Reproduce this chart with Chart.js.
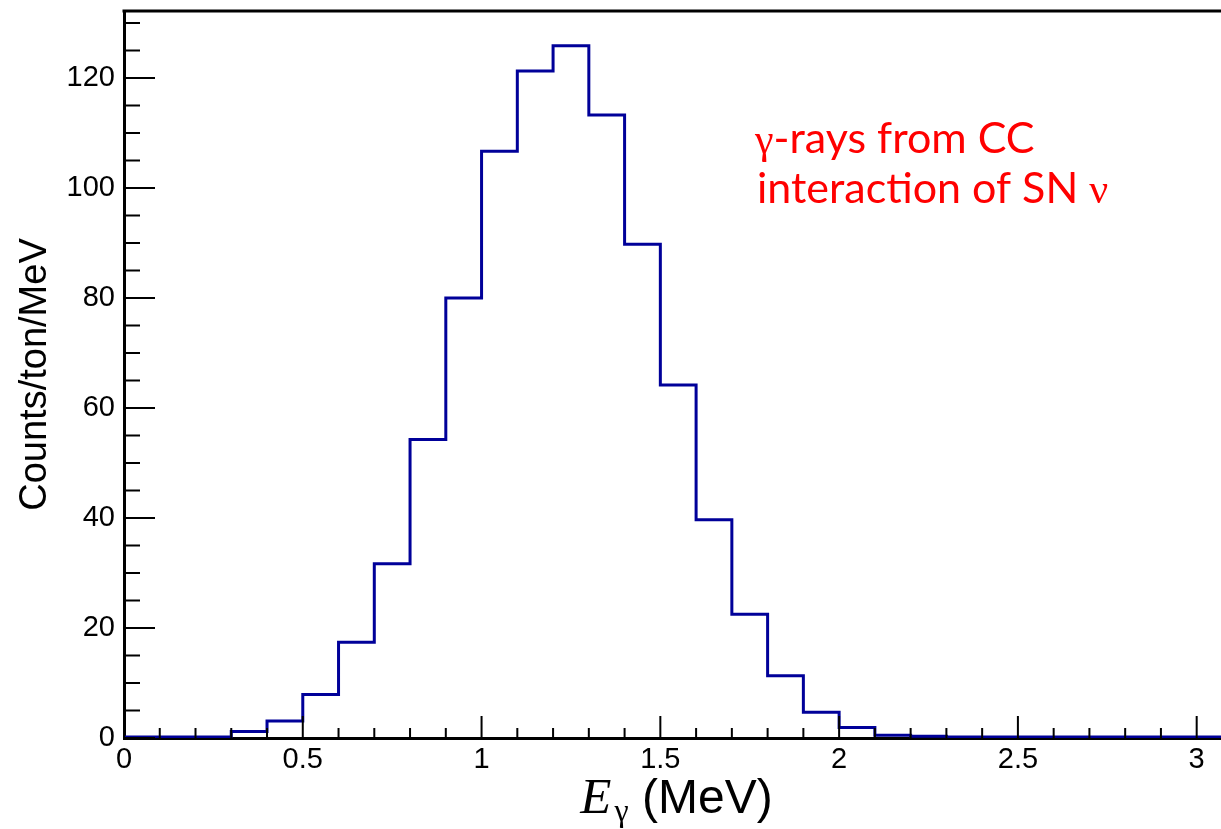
<!DOCTYPE html>
<html>
<head>
<meta charset="utf-8">
<script src="https://cdn.jsdelivr.net/npm/chart.js@4.4.1/dist/chart.umd.min.js"></script>
<style>
  html, body { margin: 0; padding: 0; background: #fff; }
  #wrap { width: 1221px; height: 829px; position: relative; }
</style>
</head>
<body>
<div id="wrap"><canvas id="histChart"></canvas></div>
<script>
// bin edges in MeV (0.1 MeV bins)
const binEdges = [0, 0.1, 0.2, 0.3, 0.4, 0.5, 0.6, 0.7, 0.8, 0.9, 1.0, 1.1, 1.2, 1.3, 1.4, 1.5,
  1.6, 1.7, 1.8, 1.9, 2.0, 2.1, 2.2, 2.3, 2.4, 2.5, 2.6, 2.7, 2.8, 2.9, 3.0, 3.1];
// counts/ton/MeV for each bin
const counts = [0.2, 0.2, 0.2, 1.2, 3.1, 7.9, 17.4, 31.7, 54.3, 80.0, 106.7, 121.3, 125.9, 113.3, 89.8,
  64.2, 39.7, 22.5, 11.3, 4.7, 1.9, 0.5, 0.3, 0.2, 0.2, 0.2, 0.2, 0.2, 0.2, 0.2, 0.2];
const xTickValues = [0, 0.5, 1, 1.5, 2, 2.5, 3];
const yTickValues = [0, 20, 40, 60, 80, 100, 120];
const yTitle = "Counts/ton/MeV";
const xTitle = { symbol: "E", sub: "\u03b3", unit: " (MeV)" };
const note = [
  { greek: "\u03b3", text: "-rays from CC" },
  { text: "interaction of SN ", greekAfter: "\u03bd" }
];

const SANS = "'Liberation Sans', Arial, Helvetica, sans-serif";
const SERIF = "'Liberation Serif', 'Times New Roman', serif";
const NOTE_FONT = "Lato, 'Open Sans', sans-serif";

// step points: each bin's left edge, plus the last right edge
const histPoints = counts.map((c, i) => ({ x: binEdges[i], y: c }));
histPoints.push({ x: binEdges[binEdges.length - 1], y: counts[counts.length - 1] });

const frameAndLabels = {
  id: "frameAndLabels",
  afterDraw(chart) {
    const { ctx, chartArea: a, scales: { x, y } } = chart;
    ctx.save();

    // inward ticks, ROOT style
    ctx.strokeStyle = "#000";
    ctx.lineWidth = 2;
    ctx.beginPath();
    for (let i = 0; i <= 31; i++) {
      const px = x.getPixelForValue(i / 10);
      if (px > a.right) break;
      const len = i % 5 === 0 ? 22 : 10;
      ctx.moveTo(px, a.bottom);
      ctx.lineTo(px, a.bottom - len);
    }
    for (let j = 0; j <= 27; j++) {
      const py = y.getPixelForValue(j * 5);
      if (py < a.top) break;
      const len = j % 4 === 0 ? 31 : 16;
      ctx.moveTo(a.left, py);
      ctx.lineTo(a.left + len, py);
    }
    ctx.stroke();

    // top frame line
    ctx.lineWidth = 3;
    ctx.beginPath();
    ctx.moveTo(a.left - 1.5, a.top);
    ctx.lineTo(a.right, a.top);
    ctx.stroke();

    // x title: italic E, subscript gamma, unit
    ctx.fillStyle = "#000";
    ctx.textBaseline = "alphabetic";
    ctx.textAlign = "left";
    const fE = "italic 51px " + SERIF;
    const fG = "32px " + SERIF;
    const fU = "48px " + SANS;
    ctx.font = fE; const wE = ctx.measureText(xTitle.symbol).width;
    ctx.font = fG; const wG = ctx.measureText(xTitle.sub).width;
    ctx.font = fU; const wU = ctx.measureText(xTitle.unit).width;
    const total = wE + 3 + wG + wU;
    let tx = (a.left + a.right) / 2 + 4 - total / 2;
    const base = a.bottom + 75;
    ctx.font = fE; ctx.fillText(xTitle.symbol, tx, base); tx += wE + 3;
    ctx.font = fG; ctx.fillText(xTitle.sub, tx, base + 8); tx += wG;
    ctx.font = fU; ctx.fillText(xTitle.unit, tx, base);

    // red annotation
    ctx.fillStyle = "#ff0000";
    const nx = 755;
    let ny = 153;
    ctx.font = "42px " + SERIF;
    ctx.fillText(note[0].greek, nx, ny);
    const gw = ctx.measureText(note[0].greek).width;
    ctx.font = "43px " + NOTE_FONT;
    ctx.fillText(note[0].text, nx + gw, ny);
    ny += 50;
    ctx.fillText(note[1].text, nx + 2, ny);
    const w2 = ctx.measureText(note[1].text).width;
    ctx.font = "42px " + SERIF;
    ctx.fillText(note[1].greekAfter, nx + 2 + w2, ny);

    ctx.restore();
  }
};

new Chart(document.getElementById("histChart"), {
  type: "line",
  data: {
    datasets: [{
      data: histPoints,
      stepped: "before",
      borderColor: "#000099",
      borderWidth: 3,
      pointRadius: 0,
      fill: false
    }]
  },
  options: {
    responsive: true,
    maintainAspectRatio: false,
    animation: false,
    devicePixelRatio: 1,
    layout: { padding: { top: 11, left: 0, right: 0, bottom: 0 } },
    plugins: { legend: { display: false }, tooltip: { enabled: false } },
    scales: {
      x: {
        type: "linear",
        min: 0,
        max: 3.068,
        grid: { display: false, drawTicks: false },
        border: { display: true, color: "#000", width: 3 },
        ticks: {
          color: "#000",
          font: { family: SANS, size: 29 },
          padding: 5,
          maxRotation: 0,
          callback: v => String(v)
        },
        afterBuildTicks: s => { s.ticks = xTickValues.map(v => ({ value: v })); },
        afterFit: s => { s.height = 91; s.paddingLeft = 0; s.paddingRight = 0; }
      },
      y: {
        type: "linear",
        min: 0,
        max: 132.2,
        grid: { display: false, drawTicks: false },
        border: { display: true, color: "#000", width: 3 },
        ticks: {
          color: "#000",
          font: { family: SANS, size: 29 },
          padding: 9,
          callback: v => String(v)
        },
        title: {
          display: true,
          text: yTitle,
          color: "#000",
          font: { family: SANS, size: 38 },
          padding: { top: 13, bottom: 0 }
        },
        afterBuildTicks: s => { s.ticks = yTickValues.map(v => ({ value: v })); },
        afterFit: s => { s.width = 124; s.paddingTop = 0; s.paddingBottom = 0; }
      }
    }
  },
  plugins: [frameAndLabels]
});
</script>
</body>
</html>
